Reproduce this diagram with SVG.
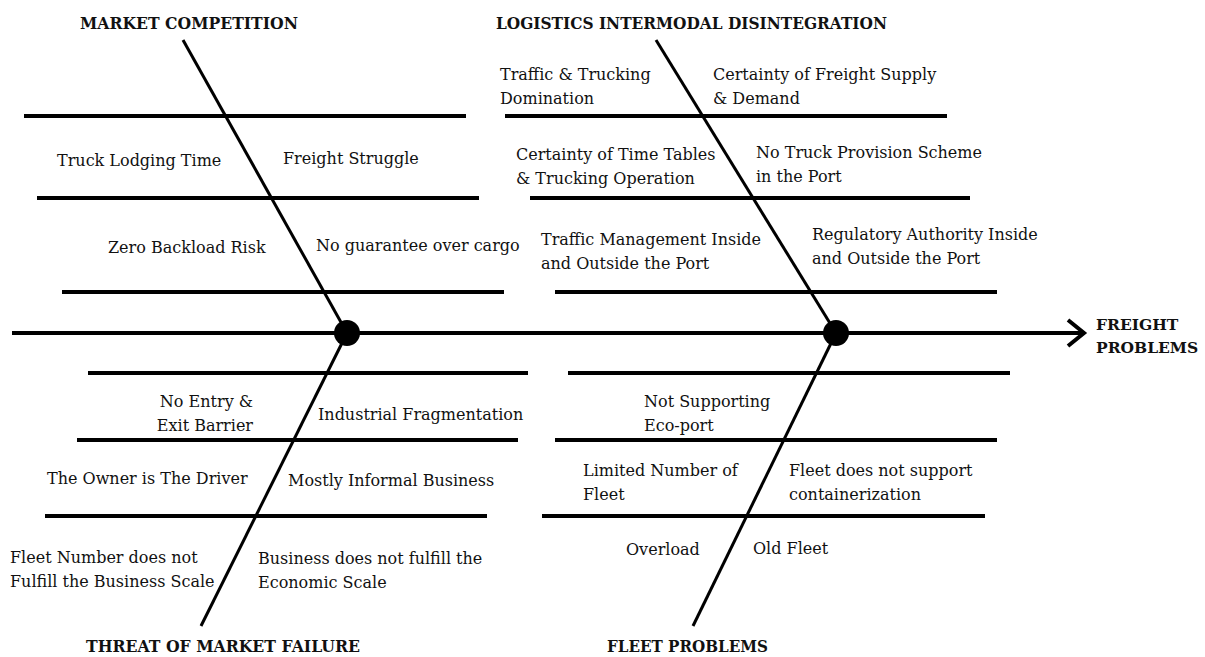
<svg xmlns="http://www.w3.org/2000/svg" width="1205" height="657" viewBox="0 0 1205 657">
<style>
.t{font-family:"DejaVu Serif","Liberation Serif",serif;font-size:16px;fill:#111}
.h{font-family:"DejaVu Serif","Liberation Serif",serif;font-size:17px;font-weight:bold;fill:#111}
.e{font-family:"DejaVu Serif","Liberation Serif",serif;font-size:15.5px;font-weight:bold;fill:#111}
.r{text-anchor:end}
.sub{stroke:#000;stroke-width:4;fill:none}
.bone{stroke:#000;stroke-width:3;fill:none}
.spine{stroke:#000;stroke-width:4;fill:none}
</style>
<rect width="1205" height="657" fill="#fff"/>
<g id="connectors">
<line class="spine" x1="12" y1="333" x2="1083" y2="333"/>
<polyline class="spine" points="1068,320 1084,333 1068,346"/>
<line class="bone" x1="183" y1="40" x2="347" y2="333"/>
<line class="bone" x1="656" y1="40" x2="836" y2="333"/>
<line class="bone" x1="347" y1="333" x2="201" y2="626"/>
<line class="bone" x1="836" y1="333" x2="693" y2="626"/>
<circle cx="347" cy="333" r="13" fill="#000"/>
<circle cx="836" cy="333" r="13" fill="#000"/>
</g>
<g id="effect">
<text class="e" x="1096" y="330">FREIGHT</text>
<text class="e" x="1096" y="353">PROBLEMS</text>
</g>
<g id="market-competition">
<text class="h" x="80" y="29" textLength="218" lengthAdjust="spacingAndGlyphs">MARKET COMPETITION</text>
<line class="sub" x1="24" y1="116" x2="466" y2="116"/>
<line class="sub" x1="37" y1="198" x2="479" y2="198"/>
<line class="sub" x1="62" y1="292" x2="504" y2="292"/>
<text class="t" x="57" y="166">Truck Lodging Time</text>
<text class="t" x="283" y="164">Freight Struggle</text>
<text class="t" x="108" y="253">Zero Backload Risk</text>
<text class="t" x="316" y="251">No guarantee over cargo</text>
</g>
<g id="logistics">
<text class="h" x="496" y="29" textLength="391" lengthAdjust="spacingAndGlyphs">LOGISTICS INTERMODAL DISINTEGRATION</text>
<line class="sub" x1="505" y1="116" x2="947" y2="116"/>
<line class="sub" x1="530" y1="198" x2="970" y2="198"/>
<line class="sub" x1="555" y1="292" x2="997" y2="292"/>
<text class="t" x="500" y="80">Traffic &amp; Trucking</text>
<text class="t" x="500" y="104">Domination</text>
<text class="t" x="713" y="80">Certainty of Freight Supply</text>
<text class="t" x="713" y="104">&amp; Demand</text>
<text class="t" x="516" y="160">Certainty of Time Tables</text>
<text class="t" x="516" y="184">&amp; Trucking Operation</text>
<text class="t" x="756" y="158">No Truck Provision Scheme</text>
<text class="t" x="756" y="182">in the Port</text>
<text class="t" x="541" y="245">Traffic Management Inside</text>
<text class="t" x="541" y="269">and Outside the Port</text>
<text class="t" x="812" y="240">Regulatory Authority Inside</text>
<text class="t" x="812" y="264">and Outside the Port</text>
</g>
<g id="market-failure">
<text class="h" x="86" y="652" textLength="274" lengthAdjust="spacingAndGlyphs">THREAT OF MARKET FAILURE</text>
<line class="sub" x1="88" y1="373" x2="528" y2="373"/>
<line class="sub" x1="77" y1="440" x2="518" y2="440"/>
<line class="sub" x1="45" y1="516" x2="487" y2="516"/>
<text class="t r" x="253" y="407">No Entry &amp;</text>
<text class="t r" x="253" y="431">Exit Barrier</text>
<text class="t" x="318" y="420">Industrial Fragmentation</text>
<text class="t" x="47" y="484">The Owner is The Driver</text>
<text class="t" x="288" y="486">Mostly Informal Business</text>
<text class="t" x="10" y="563">Fleet Number does not</text>
<text class="t" x="10" y="587">Fulfill the Business Scale</text>
<text class="t" x="258" y="564">Business does not fulfill the</text>
<text class="t" x="258" y="588">Economic Scale</text>
</g>
<g id="fleet-problems">
<text class="h" x="607" y="652" textLength="161" lengthAdjust="spacingAndGlyphs">FLEET PROBLEMS</text>
<line class="sub" x1="568" y1="373" x2="1010" y2="373"/>
<line class="sub" x1="555" y1="440" x2="997" y2="440"/>
<line class="sub" x1="542" y1="516" x2="985" y2="516"/>
<text class="t" x="644" y="407">Not Supporting</text>
<text class="t" x="644" y="431">Eco-port</text>
<text class="t" x="583" y="476">Limited Number of</text>
<text class="t" x="583" y="500">Fleet</text>
<text class="t" x="789" y="476">Fleet does not support</text>
<text class="t" x="789" y="500">containerization</text>
<text class="t" x="626" y="555">Overload</text>
<text class="t" x="753" y="554">Old Fleet</text>
</g>
</svg>
